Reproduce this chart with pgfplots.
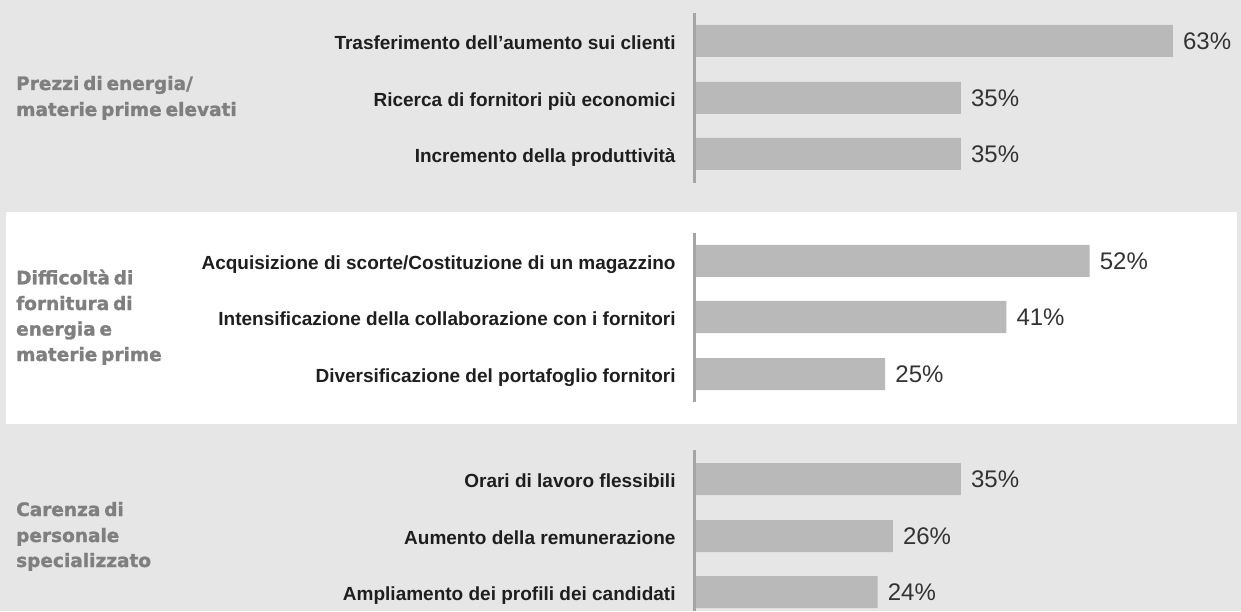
\documentclass[border=0pt]{standalone}
\usepackage{pgfplots}
\pgfplotsset{compat=1.18}
\usepackage{fontspec}
\setmainfont{Liberation Sans}
\newfontfamily\headfont{DejaVu Sans}[BoldFeatures={FakeBold=1.3}, WordSpace=0.6]
\definecolor{bggray}{HTML}{E6E6E6}
\definecolor{bargray}{HTML}{B9B9B9}
\definecolor{linegray}{HTML}{A5A5A5}
\definecolor{headgray}{HTML}{7F7F7F}
\definecolor{labelblack}{HTML}{1E1E1E}
\definecolor{valgray}{HTML}{333333}
\begin{document}
\begin{tikzpicture}[x=1pt,y=1pt,
  head/.style={anchor=base west, inner sep=0, text=headgray,
    font=\headfont\bfseries\fontsize{18.5}{22}\selectfont}]
\useasboundingbox (0,0) rectangle (1241,611);
\fill[bggray] (0,0) rectangle (1241,611);
\fill[white] (6,187) rectangle (1237,399);
% axis lines of the three panels
\draw[linegray, line width=2.2pt] (694.5,598) -- (694.5,428);
\draw[linegray, line width=2.2pt] (694.5,378) -- (694.5,209);
\draw[linegray, line width=2.2pt] (694.5,161) -- (694.5,0);
% group headings
\node[head] at (16,521) {Prezzi di energia/};
\node[head] at (16,495) {materie prime elevati};
\node[head] at (16,326.7) {Difficoltà di};
\node[head] at (16,301) {fornitura di};
\node[head] at (16,275.5) {energia e};
\node[head] at (16,250) {materie prime};
\node[head] at (16,95) {Carenza di};
\node[head] at (16,69) {personale};
\node[head] at (16,44) {specializzato};
\begin{axis}[
  at={(696pt,0pt)}, anchor=south west,
  width=545pt, height=611pt, scale only axis,
  xmin=0, xmax=72.0,
  ymin=-611, ymax=0,
  clip=false,
  axis line style={draw=none},
  tick style={draw=none},
  xtick=\empty,
  ytick={-41,-98,-154,-261,-317,-374,-479,-536,-592},
  yticklabels={
    Trasferimento dell'aumento sui clienti,
    Ricerca di fornitori più economici,
    Incremento della produttività,
    Acquisizione di scorte/Costituzione di un magazzino,
    Intensificazione della collaborazione con i fornitori,
    Diversificazione del portafoglio fornitori,
    Orari di lavoro flessibili,
    Aumento della remunerazione,
    Ampliamento dei profili dei candidati},
  yticklabel style={anchor=base east, inner sep=0pt, xshift=-16pt, yshift=-8.5pt,
    font=\bfseries\fontsize{19}{22}\selectfont, text=labelblack},
  xbar, bar width=32pt, bar shift=0pt,
  point meta=x,
  nodes near coords={\pgfmathprintnumber[assume math mode=true]{\pgfplotspointmeta}\%},
  nodes near coords style={anchor=west, inner sep=0pt, xshift=10pt,
    font=\fontsize{24}{28}\selectfont, text=valgray},
]
\addplot[fill=bargray, draw=none] coordinates {
  (63,-41) (35,-98) (35,-154)
  (52,-261) (41,-317) (25,-374)
  (35,-479) (26,-536) (24,-592)
};
\end{axis}
\end{tikzpicture}
\end{document}
